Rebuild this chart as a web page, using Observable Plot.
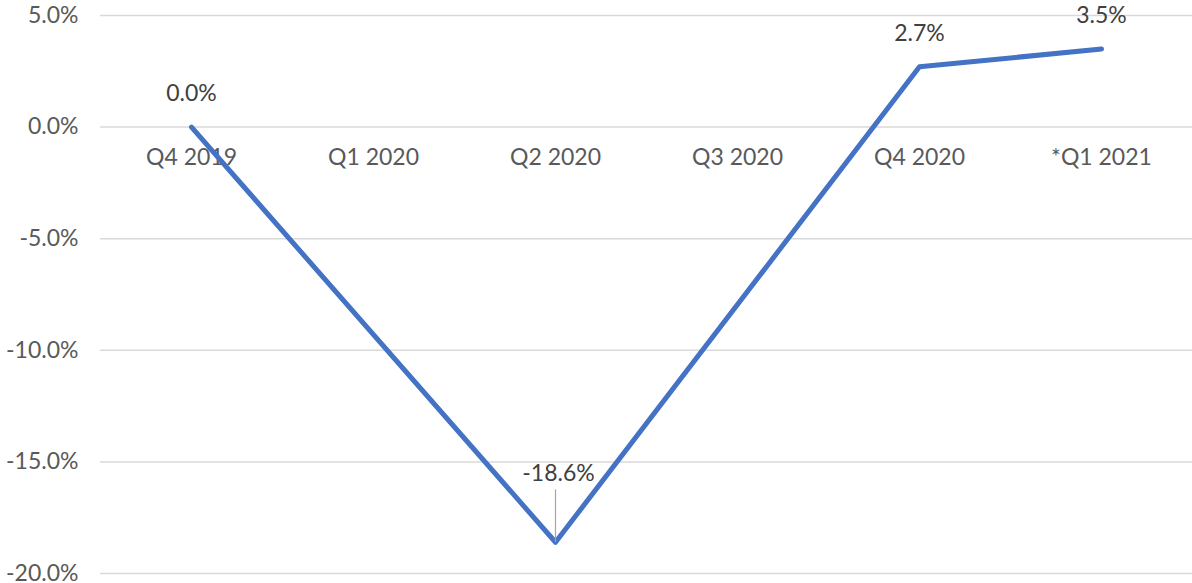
<!DOCTYPE html>
<html>
<head>
<meta charset="utf-8">
<script src="https://cdn.jsdelivr.net/npm/d3@7"></script>
<script src="https://cdn.jsdelivr.net/npm/@observablehq/plot@0.6"></script>
<style>
  html, body { margin: 0; padding: 0; background: #fff; }
  #chart svg { display: block; }
</style>
</head>
<body>
<div id="chart"></div>
<script>
const quarters = ["Q4 2019", "Q1 2020", "Q2 2020", "Q3 2020", "Q4 2020", "*Q1 2021"];
const pointQuarters = ["Q4 2019", "Q2 2020", "Q4 2020", "*Q1 2021"];
const values = [0.0, -18.6, 2.7, 3.5];
const yTicks = [5, 0, -5, -10, -15, -20];

const data = pointQuarters.map((q, i) => ({q, v: values[i]}));
const fmt = d => d.toFixed(1) + "%";
const font = "Lato, 'Open Sans', sans-serif";

const chart = Plot.plot({
  width: 1192,
  height: 583,
  marginLeft: 100,
  marginRight: 0,
  marginTop: 15,
  marginBottom: 10,
  style: {fontFamily: font, fontSize: "23px", background: "#fff"},
  x: {type: "point", domain: quarters, padding: 0.5, axis: null},
  y: {domain: [-20, 5], ticks: yTicks, tickFormat: fmt, label: null},
  marks: [
    Plot.ruleY(yTicks, {stroke: "#d9d9d9", strokeWidth: 1.5}),
    Plot.axisY({ticks: yTicks, tickFormat: fmt, tickSize: 0, tickPadding: 22, label: null,
                fill: "#595959", fontSize: 23, fontFamily: font}),
    Plot.text(quarters, {x: d => d, y: () => 0, dy: 31, fill: "#595959", fontSize: 23, fontFamily: font}),
    Plot.line(data, {x: "q", y: "v", stroke: "#4472C4", strokeWidth: 5, strokeLinejoin: "round"}),
    Plot.ruleX(data.filter(d => d.v < 0), {x: "q", y1: "v", y2: d => d.v + 2.35, stroke: "#a6a6a6", strokeWidth: 1.2}),
    Plot.text(data.filter(d => d.v >= 0), {x: "q", y: "v", text: d => fmt(d.v), dy: -33, fill: "#404040", fontSize: 23, fontFamily: font}),
    Plot.text(data.filter(d => d.v < 0), {x: "q", y: "v", text: d => fmt(d.v), dy: -69, dx: 3, fill: "#404040", fontSize: 23, fontFamily: font})
  ]
});
document.getElementById("chart").appendChild(chart);
</script>
</body>
</html>
